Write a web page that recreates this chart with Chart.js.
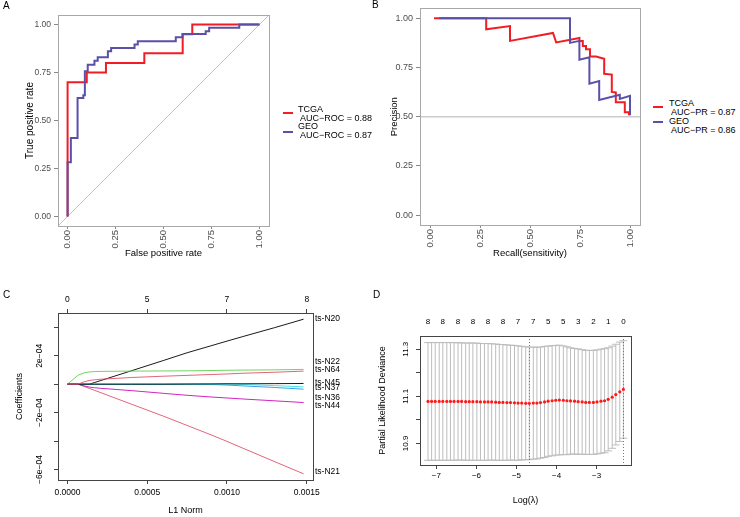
<!DOCTYPE html>
<html lang="en">
<head>
<meta charset="UTF-8">
<title>ROC / PR / LASSO panels</title>
<script src="https://cdn.jsdelivr.net/npm/chart.js"></script>
<style>
    body { margin: 0; background: #fff; font-family: "Liberation Sans", Arial, sans-serif; }
    .page { position: relative; width: 740px; height: 517px; overflow: hidden; background: #fff; }
    canvas { position: absolute; }
    .tag { position: absolute; font-size: 10px; line-height: 10px; color: #000; }
    .lg { position: absolute; font-size: 9px; line-height: 9px; color: #000; white-space: pre; }
    .key { position: absolute; width: 10px; height: 2px; }
</style>
</head>
<body>
<div class="page">
    <canvas id="rocChart" width="280" height="262" style="left:0;top:0"></canvas>
    <canvas id="prChart" width="280" height="262" style="left:370px;top:0"></canvas>
    <canvas id="coefChart" width="370" height="252" style="left:0;top:265px"></canvas>
    <canvas id="cvChart" width="370" height="252" style="left:370px;top:265px"></canvas>

    <div class="tag" style="left:3px;top:1px">A</div>
    <div class="tag" style="left:372px;top:0">B</div>
    <div class="tag" style="left:3px;top:290px">C</div>
    <div class="tag" style="left:373px;top:290px">D</div>

    <div class="key" style="left:283px;top:112px;background:#F21D24"></div>
    <div class="lg" style="left:298px;top:105px">TCGA</div>
    <div class="lg" style="left:298px;top:114px"> AUC−ROC = 0.88</div>
    <div class="key" style="left:283px;top:131px;background:#5B50A8"></div>
    <div class="lg" style="left:298px;top:122px">GEO</div>
    <div class="lg" style="left:298px;top:131px"> AUC−ROC = 0.87</div>

    <div class="key" style="left:653px;top:106px;background:#F21D24"></div>
    <div class="lg" style="left:669px;top:99px">TCGA</div>
    <div class="lg" style="left:669px;top:108px"> AUC−PR = 0.87</div>
    <div class="key" style="left:653px;top:121px;background:#5B50A8"></div>
    <div class="lg" style="left:669px;top:117px">GEO</div>
    <div class="lg" style="left:669px;top:126px"> AUC−PR = 0.86</div>
</div>
<script>
// ---- A: ROC curves ----
const rocTcgaFpr = [0, 0, 0.10, 0.20, 0.40, 0.60, 0.65, 1.00];
const rocTcgaTpr = [0, 0.70, 0.75, 0.80, 0.85, 0.95, 1.00, 1.00];
const rocGeoFpr = [0, 0, 0.017, 0.052, 0.082, 0.090, 0.105, 0.140, 0.157, 0.210, 0.227, 0.349, 0.366, 0.564, 0.599, 0.720, 0.738, 0.895, 1.00];
const rocGeoTpr = [0, 0.282, 0.409, 0.617, 0.631, 0.757, 0.791, 0.812, 0.830, 0.861, 0.878, 0.896, 0.913, 0.934, 0.951, 0.965, 0.983, 1.00, 1.00];
const rateTicks = [0, 0.25, 0.5, 0.75, 1];
const rateLim = [-0.05, 1.05];

// ---- B: precision-recall curves ----
const prTcgaRecall = [0.02, 0.281, 0.281, 0.40, 0.40, 0.615, 0.631, 0.747, 0.747, 0.764, 0.764, 0.78, 0.78, 0.80, 0.80, 0.83, 0.871, 0.871, 0.909, 0.909, 0.929, 0.929, 0.974, 0.974, 0.995, 0.995];
const prTcgaPrecision = [1, 1, 0.944, 0.96, 0.885, 0.925, 0.877, 0.90, 0.884, 0.884, 0.859, 0.859, 0.842, 0.842, 0.806, 0.806, 0.794, 0.718, 0.714, 0.626, 0.623, 0.573, 0.573, 0.523, 0.523, 0.507];
const prGeoRecall = [0.045, 0.70, 0.70, 0.747, 0.747, 0.797, 0.797, 0.846, 0.846, 0.949, 0.949, 1.0, 1.0];
const prGeoPrecision = [1, 1, 0.875, 0.885, 0.789, 0.802, 0.668, 0.681, 0.585, 0.611, 0.59, 0.606, 0.507];
const prBaseline = 0.5;

// ---- C: lasso coefficient paths ----
const l1Norm = [0, 0.000067, 0.000105, 0.000136, 0.00017, 0.00021, 0.0004, 0.0006, 0.00075, 0.0009, 0.001, 0.0011, 0.0013, 0.00148];
const coefN20 = [0, 0, 0, 0, 0.12e-4, 0.26e-4, 0.94e-4, 1.66e-4, 2.21e-4, 2.70e-4, 3.03e-4, 3.35e-4, 3.98e-4, 4.57e-4];
const coefN21 = [0, 0, -0.16e-4, -0.29e-4, -0.43e-4, -0.60e-4, -1.40e-4, -2.24e-4, -2.90e-4, -3.56e-4, -4.02e-4, -4.50e-4, -5.45e-4, -6.30e-4];
const coefN22 = [0, 0.635e-4, 0.80e-4, 0.86e-4, 0.89e-4, 0.90e-4, 0.92e-4, 0.93e-4, 0.94e-4, 0.96e-4, 0.98e-4, 0.99e-4, 1.01e-4, 1.04e-4];
const coefN36 = [0, 0, 0, 0, 0, 0, 0, 0, 0, -0.02e-4, -0.06e-4, -0.12e-4, -0.23e-4, -0.35e-4];
const coefN37 = [0, 0, 0, 0, 0, 0, 0, 0, 0, 0, 0, -0.02e-4, -0.10e-4, -0.19e-4];
const coefN44 = [0, 0, -0.12e-4, -0.20e-4, -0.25e-4, -0.29e-4, -0.45e-4, -0.64e-4, -0.78e-4, -0.90e-4, -0.97e-4, -1.04e-4, -1.17e-4, -1.29e-4];
const coefN45 = [0, 0, 0, 0, 0, 0, 0, 0, 0.01e-4, 0.02e-4, 0.03e-4, 0.03e-4, 0.04e-4, 0.05e-4];
const coefN64 = [0, 0, 0.17e-4, 0.26e-4, 0.31e-4, 0.35e-4, 0.47e-4, 0.56e-4, 0.62e-4, 0.68e-4, 0.72e-4, 0.77e-4, 0.84e-4, 0.92e-4];
const coefNames = ['ts-N20', 'ts-N21', 'ts-N22', 'ts-N36', 'ts-N37', 'ts-N44', 'ts-N45', 'ts-N64'];
const coefLabelY = [4.59e-4, -6.14e-4, 1.55e-4, -0.97e-4, -0.23e-4, -1.53e-4, 0.12e-4, 0.99e-4];
const l1Ticks = [0, 0.0005, 0.001, 0.0015];
const l1TickLabels = ['0.0000', '0.0005', '0.0010', '0.0015'];
const dfLabels = ['0', '5', '7', '8'];
const coefTicks = [-6e-4, -4e-4, -2e-4, 0, 2e-4, 4e-4];
const coefTickLabels = ['−6e−04', '', '−2e−04', '', '2e−04', ''];

// ---- D: cross-validation curve ----
const logLambda = [-7.21, -7.12, -7.03, -6.93, -6.84, -6.74, -6.65, -6.56, -6.46, -6.37, -6.27, -6.18, -6.09, -5.99, -5.90, -5.80, -5.71, -5.62, -5.52, -5.43, -5.34, -5.24, -5.15, -5.05, -4.96, -4.87, -4.77, -4.68, -4.58, -4.49, -4.40, -4.30, -4.21, -4.11, -4.02, -3.93, -3.83, -3.74, -3.65, -3.55, -3.46, -3.36, -3.27, -3.18, -3.08, -2.99, -2.89, -2.80, -2.71, -2.61, -2.52, -2.42, -2.33];
const cvm = [11.078, 11.078, 11.078, 11.078, 11.078, 11.078, 11.078, 11.078, 11.078, 11.078, 11.077, 11.077, 11.077, 11.077, 11.076, 11.076, 11.076, 11.076, 11.075, 11.074, 11.074, 11.073, 11.073, 11.072, 11.071, 11.071, 11.070, 11.070, 11.071, 11.071, 11.073, 11.076, 11.079, 11.081, 11.083, 11.084, 11.083, 11.081, 11.080, 11.079, 11.077, 11.076, 11.074, 11.074, 11.074, 11.076, 11.079, 11.081, 11.087, 11.096, 11.107, 11.119, 11.129];
const cvsd = [0.250, 0.250, 0.250, 0.250, 0.250, 0.250, 0.250, 0.250, 0.249, 0.249, 0.249, 0.249, 0.249, 0.249, 0.248, 0.248, 0.248, 0.247, 0.247, 0.246, 0.246, 0.245, 0.244, 0.244, 0.243, 0.241, 0.240, 0.239, 0.238, 0.237, 0.236, 0.236, 0.234, 0.234, 0.233, 0.233, 0.231, 0.229, 0.226, 0.224, 0.224, 0.222, 0.221, 0.221, 0.221, 0.221, 0.221, 0.221, 0.219, 0.217, 0.214, 0.211, 0.207];
const cvMarks = [-4.68, -2.33];
const nzAt = [-7.21, -6.84, -6.46, -6.09, -5.71, -5.34, -4.96, -4.58, -4.21, -3.83, -3.46, -3.08, -2.71, -2.33];
const nzLabels = ['8', '8', '8', '8', '8', '8', '7', '7', '5', '5', '3', '2', '1', '0'];
const lambdaTicks = [-7, -6, -5, -4, -3];
const devTicks = [10.9, 11.0, 11.1, 11.2, 11.3];
const devTickLabels = ['10.9', '', '11.1', '', '11.3'];

Chart.defaults.font.family = '"Liberation Sans", Arial, sans-serif';
Chart.defaults.color = '#000';

const tickMarks = (len, color) => ({ display: true, drawOnChartArea: false, drawTicks: true, tickLength: len, color: color, lineWidth: 1 });
const fixTicks = arr => scale => { scale.ticks = arr.map(v => ({ value: v })); };
const framePlugin = color => ({
    id: 'frame',
    afterDraw(chart) {
        const { ctx, chartArea: a } = chart;
        ctx.save();
        ctx.strokeStyle = color;
        ctx.lineWidth = 1;
        const l = Math.round(a.left) + 0.5, t = Math.round(a.top) + 0.5;
        ctx.strokeRect(l, t, Math.round(a.right) - Math.round(a.left), Math.round(a.bottom) - Math.round(a.top));
        ctx.restore();
    }
});
const pts = (xs, ys) => xs.map((x, i) => ({ x: x, y: ys[i] }));
const base = {
    responsive: false,
    animation: false,
    events: [],
    plugins: { legend: { display: false }, tooltip: { enabled: false } }
};

// A
new Chart(document.getElementById('rocChart'), {
    type: 'line',
    data: {
        datasets: [
            { data: pts(rocGeoFpr, rocGeoTpr), borderColor: '#5B50A8', borderWidth: 2, stepped: 'before', pointRadius: 0 },
            { data: pts(rocTcgaFpr, rocTcgaTpr), borderColor: '#F21D24', borderWidth: 2, stepped: 'before', pointRadius: 0 },
            { data: pts(rateLim, rateLim), borderColor: '#C4C4C4', borderWidth: 1, pointRadius: 0 }
        ]
    },
    options: Object.assign({}, base, {
        layout: { padding: { top: 15, right: 11, left: 0, bottom: 0 } },
        scales: {
            x: {
                type: 'linear', min: rateLim[0], max: rateLim[1],
                afterBuildTicks: fixTicks(rateTicks), afterFit: s => { s.height = 36; },
                ticks: { minRotation: 90, maxRotation: 90, padding: 1, color: '#4D4D4D', font: { size: 9.5 }, callback: v => v.toFixed(2) },
                grid: tickMarks(3, '#888'), border: { display: false },
                title: { display: true, text: 'False positive rate', font: { size: 9.5 }, padding: { top: 0, bottom: 3 } }
            },
            y: {
                type: 'linear', min: rateLim[0], max: rateLim[1],
                afterBuildTicks: fixTicks(rateTicks), afterFit: s => { s.width = 58; },
                ticks: { padding: 3, color: '#4D4D4D', font: { size: 8.5 }, callback: v => v.toFixed(2) },
                grid: tickMarks(4, '#888'), border: { display: false },
                title: { display: true, text: 'True positive rate', font: { size: 10 }, padding: { top: 24, bottom: 0 } }
            }
        }
    }),
    plugins: [framePlugin('#A8A8A8')]
});

// B
new Chart(document.getElementById('prChart'), {
    type: 'line',
    data: {
        datasets: [
            { data: pts(prGeoRecall, prGeoPrecision), borderColor: '#5B50A8', borderWidth: 2, pointRadius: 0 },
            { data: pts(prTcgaRecall, prTcgaPrecision), borderColor: '#F21D24', borderWidth: 2, pointRadius: 0 },
            { data: pts(rateLim, [prBaseline, prBaseline]), borderColor: '#CCCCCC', borderWidth: 1.5, pointRadius: 0 }
        ]
    },
    options: Object.assign({}, base, {
        layout: { padding: { top: 4, right: 10, left: 0, bottom: 0 } },
        scales: {
            x: {
                type: 'linear', min: rateLim[0], max: rateLim[1],
                afterBuildTicks: fixTicks(rateTicks), afterFit: s => { s.height = 37; },
                ticks: { minRotation: 90, maxRotation: 90, padding: 1, color: '#4D4D4D', font: { size: 9.5 }, callback: v => v.toFixed(2) },
                grid: tickMarks(3, '#888'), border: { display: false },
                title: { display: true, text: 'Recall(sensitivity)', font: { size: 9.5 }, padding: { top: 0, bottom: 3 } }
            },
            y: {
                type: 'linear', min: rateLim[0], max: rateLim[1],
                afterBuildTicks: fixTicks(rateTicks), afterFit: s => { s.width = 50; },
                ticks: { padding: 3, color: '#4D4D4D', font: { size: 9 }, callback: v => v.toFixed(2) },
                grid: tickMarks(4, '#888'), border: { display: false },
                title: { display: true, text: 'Precision', font: { size: 9.5 }, padding: { top: 19, bottom: 0 } }
            }
        }
    }),
    plugins: [framePlugin('#A8A8A8')]
});

// C
const coefSeries = [coefN20, coefN21, coefN22, coefN36, coefN37, coefN44, coefN45, coefN64];
const coefColors = ['#000000', '#DF536B', '#61D04F', '#2297E6', '#28E2E5', '#CD0BBC', '#000000', '#DF536B'];
const coefLabels = {
    id: 'coefLabels',
    afterDraw(chart) {
        const { ctx, chartArea: a, scales: { y } } = chart;
        ctx.save();
        ctx.font = '8.5px "Liberation Sans", Arial, sans-serif';
        ctx.fillStyle = '#000';
        ctx.textBaseline = 'middle';
        coefNames.forEach((name, i) => ctx.fillText(name, a.right + 2, y.getPixelForValue(coefLabelY[i])));
        ctx.restore();
    }
};
new Chart(document.getElementById('coefChart'), {
    type: 'line',
    data: {
        datasets: coefSeries.map((s, i) => ({
            data: pts(l1Norm, s), borderColor: coefColors[i], borderWidth: 0.9, pointRadius: 0, order: -i
        }))
    },
    options: Object.assign({}, base, {
        layout: { padding: { top: 0, right: 57, left: 0, bottom: 0 } },
        scales: {
            x: {
                type: 'linear', min: -0.0000592, max: 0.0015392,
                afterBuildTicks: fixTicks(l1Ticks), afterFit: s => { s.height = 37; },
                ticks: { padding: 4, font: { size: 8.5 }, autoSkip: false, maxRotation: 0, callback: (v, i) => l1TickLabels[i] },
                grid: tickMarks(4, '#444'), border: { display: false },
                title: { display: true, text: 'L1 Norm', font: { size: 9 }, padding: { top: 0, bottom: 1 } }
            },
            x2: {
                type: 'linear', axis: 'x', position: 'top', min: -0.0000592, max: 0.0015392,
                afterBuildTicks: fixTicks(l1Ticks), afterFit: s => { s.height = 48; },
                ticks: { padding: 4, font: { size: 8.5 }, autoSkip: false, maxRotation: 0, callback: (v, i) => dfLabels[i] },
                grid: tickMarks(4, '#444'), border: { display: false }
            },
            y: {
                type: 'linear', min: -6.735e-4, max: 5.005e-4,
                afterBuildTicks: fixTicks(coefTicks), afterFit: s => { s.width = 58; },
                ticks: { padding: 0, font: { size: 8.5 }, autoSkip: false, minRotation: 90, maxRotation: 90, crossAlign: 'center', callback: (v, i) => coefTickLabels[i] },
                grid: tickMarks(4, '#444'), border: { display: false },
                title: { display: true, text: 'Coefficients', font: { size: 9 }, padding: { top: 14.5, bottom: 0 } }
            }
        }
    }),
    plugins: [framePlugin('#444'), coefLabels]
});

// D
const errorBars = {
    id: 'errorBars',
    beforeDatasetsDraw(chart) {
        const { ctx, scales: { x, y } } = chart;
        const barw = (Math.max(...logLambda) - Math.min(...logLambda)) * 0.02;
        ctx.save();
        ctx.strokeStyle = '#BDBDBD';
        ctx.lineWidth = 1;
        logLambda.forEach((l, i) => {
            const px = x.getPixelForValue(l);
            const up = y.getPixelForValue(cvm[i] + cvsd[i]);
            const lo = y.getPixelForValue(cvm[i] - cvsd[i]);
            const x0 = x.getPixelForValue(l - barw), x1 = x.getPixelForValue(l + barw);
            ctx.beginPath();
            ctx.moveTo(px, up); ctx.lineTo(px, lo);
            ctx.moveTo(x0, up); ctx.lineTo(x1, up);
            ctx.moveTo(x0, lo); ctx.lineTo(x1, lo);
            ctx.stroke();
        });
        ctx.restore();
    }
};
const markLines = {
    id: 'markLines',
    afterDatasetsDraw(chart) {
        const { ctx, chartArea: a, scales: { x } } = chart;
        ctx.save();
        ctx.strokeStyle = '#777';
        ctx.lineWidth = 1;
        ctx.setLineDash([1, 2]);
        cvMarks.forEach(m => {
            const px = Math.round(x.getPixelForValue(m)) + 0.5;
            ctx.beginPath(); ctx.moveTo(px, a.top); ctx.lineTo(px, a.bottom); ctx.stroke();
        });
        ctx.restore();
    }
};
new Chart(document.getElementById('cvChart'), {
    type: 'line',
    data: {
        datasets: [{
            data: pts(logLambda, cvm), showLine: false, pointRadius: 1.6, pointBorderWidth: 0,
            pointBackgroundColor: '#FF1A1A', borderColor: '#FF1A1A'
        }]
    },
    options: Object.assign({}, base, {
        layout: { padding: { top: 0, right: 109, left: 0, bottom: 0 } },
        scales: {
            x: {
                type: 'linear', min: -7.41, max: -2.14,
                afterBuildTicks: fixTicks(lambdaTicks), afterFit: s => { s.height = 52; },
                ticks: { padding: 2, font: { size: 8 }, autoSkip: false, maxRotation: 0, callback: v => String(v).replace('-', '−') },
                grid: tickMarks(4, '#444'), border: { display: false },
                title: { display: true, text: 'Log(λ)', font: { size: 9 }, padding: { top: 0, bottom: 11.5 } }
            },
            x2: {
                type: 'linear', axis: 'x', position: 'top', min: -7.41, max: -2.14,
                afterBuildTicks: fixTicks(nzAt), afterFit: s => { s.height = 71; },
                ticks: { padding: 9, font: { size: 8 }, autoSkip: false, maxRotation: 0, callback: (v, i) => nzLabels[i] },
                grid: { display: false, drawTicks: false, tickLength: 0 }, border: { display: false }
            },
            y: {
                type: 'linear', min: 10.808, max: 11.356,
                afterBuildTicks: fixTicks(devTicks), afterFit: s => { s.width = 50; },
                ticks: { padding: 2.5, font: { size: 8 }, autoSkip: false, minRotation: 90, maxRotation: 90, crossAlign: 'center', callback: (v, i) => devTickLabels[i] },
                grid: tickMarks(4, '#444'), border: { display: false },
                title: { display: true, text: 'Partial Likelihood Deviance', font: { size: 9 }, padding: { top: 7.5, bottom: 0 } }
            }
        }
    }),
    plugins: [errorBars, markLines, framePlugin('#444')]
});
</script>
</body>
</html>
